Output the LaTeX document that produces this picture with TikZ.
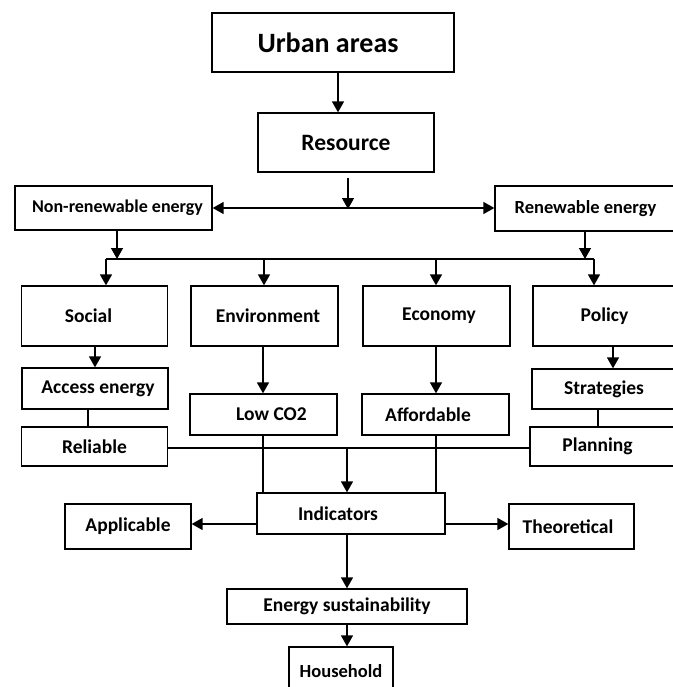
\documentclass[tikz,border=0pt]{standalone}
\usepackage{fontspec}
\setmainfont{Carlito}
\usetikzlibrary{arrows.meta,calc}
\begin{document}
\begin{tikzpicture}[x=1pt,y=-1pt,
  box/.style={draw, line width=1.3pt, inner sep=0pt, align=center,
    font=\bfseries\fontsize{19.5}{22}\selectfont},
  arr/.style={line width=1.4pt, -{Triangle[length=11pt,width=12pt]}},
  dblarr/.style={line width=1.4pt, {Triangle[length=11pt,width=12pt]}-{Triangle[length=11pt,width=12pt]}},
  ln/.style={line width=1.4pt}]
\useasboundingbox (0,0) rectangle (672,687);
\fill[white] (0,0) rectangle (672,687);

% boxes
\node[box, minimum width=242pt, minimum height=59pt, font=\bfseries\fontsize{28}{32}\selectfont] (urban) at (333,42.5) {Urban areas\hspace*{10pt}};
\node[box, minimum width=176pt, minimum height=59pt, font=\bfseries\fontsize{23.5}{27}\selectfont] (resource) at (346,142.5) {Resource};
\node[box, minimum width=197pt, minimum height=44pt, font=\bfseries\fontsize{18}{21}\selectfont] (nonren) at (113.5,208) {\hspace*{8pt}Non-renewable energy};
\node[box, minimum width=181pt, minimum height=45pt, font=\bfseries\fontsize{18.5}{21}\selectfont] (renew) at (585.5,208.5) {\raisebox{-3pt}{Renewable energy}};

\node[box, minimum width=146pt, minimum height=60pt] (social) at (94.5,316) {Social\hspace*{12pt}};
\node[box, minimum width=147pt, minimum height=60pt] (env) at (264.5,316) {\hspace*{7pt}Environment};
\node[box, minimum width=147pt, minimum height=60pt] (econ) at (436.5,316) {\hspace*{5pt}Economy};
\node[box, minimum width=143pt, minimum height=60pt] (policy) at (604.5,316) {Policy};

\node[box, minimum width=146pt, minimum height=41pt] (access) at (95,388.5) {\hspace*{6pt}Access energy};
\node[box, minimum width=146pt, minimum height=39pt] (reliable) at (94.5,446.5) {Reliable};
\node[box, minimum width=147pt, minimum height=41pt] (lowco2) at (263.5,414.5) {\hspace*{16pt}Low CO2};
\node[box, minimum width=147pt, minimum height=41pt] (afford) at (435.5,414.5) {Affordable\hspace*{15pt}};
\node[box, minimum width=144pt, minimum height=40pt] (strat) at (604,389) {Strategies};
\node[box, minimum width=146pt, minimum height=39pt] (plan) at (603,446.5) {Planning\hspace*{11pt}};

\node[box, minimum width=188pt, minimum height=41pt] (indic) at (351,513.5) {Indicators\hspace*{26pt}};
\node[box, minimum width=126pt, minimum height=45pt] (applic) at (128,526.5) {Applicable};
\node[box, minimum width=125pt, minimum height=45pt] (theor) at (571.5,526.5) {Theoretical\hspace*{7pt}};
\node[box, minimum width=240pt, minimum height=35pt] (energy) at (347,606.5) {Energy sustainability};
\node[box, minimum width=104pt, minimum height=48pt, font=\bfseries\fontsize{18.5}{21}\selectfont] (house) at (341,671) {Household};

% helper coordinates
\coordinate (a1) at (338,0);
\coordinate (j1) at (348,209);
\coordinate (n1) at (117,259);
\coordinate (r1) at (585,259);
\coordinate (dL) at (106,259);
\coordinate (dE) at (264,259);
\coordinate (dC) at (436,259);
\coordinate (dR) at (594,259);
\coordinate (s1) at (95,0);
\coordinate (s2) at (88,0);
\coordinate (e1) at (263,0);
\coordinate (c1) at (436,0);
\coordinate (p1) at (613,0);
\coordinate (p2) at (598,0);
\coordinate (h) at (0,448);
\coordinate (m) at (347,448);
\coordinate (i1) at (0,524);
\coordinate (m2) at (347,0);

% connectors
\draw[arr] (urban.south -| a1) -- (resource.north -| a1);
\draw[arr, shorten <=5pt] (resource.south -| j1) -- (j1);
\draw[dblarr] (nonren.east) -- (nonren.east -| renew.west);

\draw[arr] (nonren.south -| n1) -- (n1);
\draw[arr] (renew.south -| r1) -- (r1);
\draw[ln] (dL) -- (dR);
\draw[arr] (dL) -- (social.north -| dL);
\draw[arr] (dE) -- (env.north -| dE);
\draw[arr] (dC) -- (econ.north -| dC);
\draw[arr] (dR) -- (policy.north -| dR);

\draw[arr] (social.south -| s1) -- (access.north -| s1);
\draw[ln] (access.south -| s2) -- (reliable.north -| s2);
\draw[arr] (env.south -| e1) -- (lowco2.north -| e1);
\draw[arr] (econ.south -| c1) -- (afford.north -| c1);
\draw[arr] (policy.south -| p1) -- (strat.north -| p1);
\draw[ln] (strat.south -| p2) -- (plan.north -| p2);

\draw[ln] (reliable.east |- h) -- (plan.west |- h);
\draw[arr] (m) -- (indic.north -| m);
\draw[ln] (lowco2.south -| e1) -- (indic.north -| e1);
\draw[ln] (afford.south -| c1) -- (indic.north -| c1);

\draw[arr] (indic.west |- i1) -- (applic.east |- i1);
\draw[arr] (indic.east |- i1) -- (theor.west |- i1);
\draw[arr] (indic.south -| m2) -- (energy.north -| m2);
\draw[arr] (energy.south -| m2) -- (house.north -| m2);
\end{tikzpicture}
\end{document}
